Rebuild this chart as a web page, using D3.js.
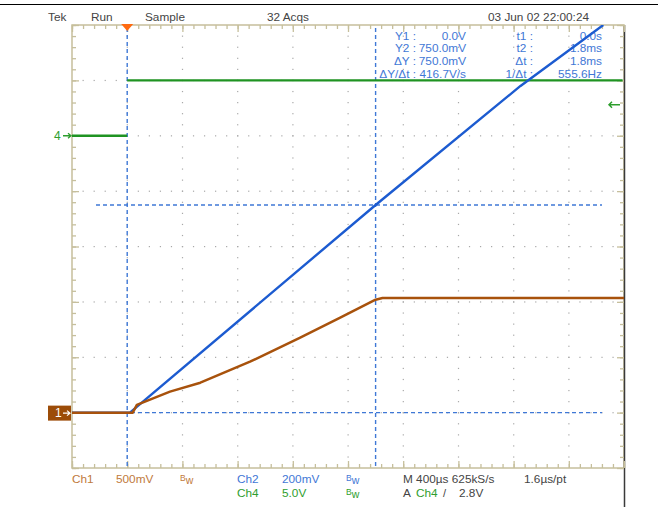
<!DOCTYPE html>
<html><head><meta charset="utf-8">
<script src="https://cdn.jsdelivr.net/npm/d3@7"></script>
<style>
html,body{margin:0;padding:0;background:#fff;}
svg{display:block;font-family:"Liberation Sans",Arial,sans-serif;}
</style></head>
<body>
<svg id="c" width="663" height="507"></svg>
<script>
// ---- data (time in ms, values in volts) ----
const timeDomain = [-0.4, 3.6];          // 400 µs/div, 10 divisions
const divDomain = [-4, 4];               // 8 vertical divisions
const ch1Time = [-0.4, 0.04, 0.07, 0.31, 0.53, 0.89, 1.25, 1.54, 1.80, 1.85, 3.6];
const ch1Volts = [0, 0, 0.07, 0.19, 0.27, 0.46, 0.675, 0.856, 1.02, 1.035, 1.035];
const ch2Time = [-0.4, 0.02, 1.80, 2.85, 3.45];
const ch2Volts = [0, 0, 0.75, 1.18, 1.40];
const ch4Time = [-0.4, 0, 0, 0, 3.59];
const ch4Volts = [0, 0, null, 5.0, 5.0];
const ch1Scale = 0.5, ch2Scale = 0.2, ch4Scale = 5.0;    // V/div
const ch1Ground = -3, ch2Ground = -3, ch4Ground = 2;      // divisions
const cursorTimes = [0, 1.8];
const cursorVolts = [0, 0.75];
const trigLevel = 2.8;
const headerLabels = ["Tek", "Run", "Sample", "32 Acqs", "03 Jun 02 22:00:24"];
const readoutLeft = [["Y1 :", "0.0V"], ["Y2 :", "750.0mV"], ["ΔY :", "750.0mV"], ["ΔY/Δt :", "416.7V/s"]];
const readoutRight = [["t1 :", "0.0s"], ["t2 :", "1.8ms"], ["Δt :", "1.8ms"], ["1/Δt :", "555.6Hz"]];

const C1 = "#a8520c", C1T = "#bf7a3c", C2 = "#1c5bd0", C2T = "#3f78d6", C4 = "#1f9322", C4T = "#2e9e2e";
const FRAME = "#c6bf9c", TXT = "#444";

const svg = d3.select("#c");
const L = 72, R = 624, T = 25, B = 468;
const x = d3.scaleLinear().domain(timeDomain).range([L, R]);
const y = d3.scaleLinear().domain(divDomain).range([B, T]);

// top black line & right border
svg.append("line").attr("x1", 0).attr("x2", 658).attr("y1", 4.5).attr("y2", 4.5).attr("stroke", "#000").attr("stroke-width", 1.2);

// grid dots
const gDots = svg.append("g").attr("fill", "#a8a8a8");
const majorT = d3.range(1, 10).map(k => timeDomain[0] + 0.4 * k);
const majorD = d3.range(-3, 4);
const minorT = d3.range(0, 51).map(k => timeDomain[0] + 0.08 * k);
const minorD = d3.range(0, 41).map(k => -4 + 0.2 * k);
majorT.forEach(t => minorD.forEach(d => { if (d > -3.99 && d < 3.99) gDots.append("rect").attr("x", x(t) - 0.5).attr("y", y(d) - 0.5).attr("width", 1.2).attr("height", 1.2); }));
majorD.forEach(d => minorT.forEach(t => { if (t > -0.39 && t < 3.59) gDots.append("rect").attr("x", x(t) - 0.5).attr("y", y(d) - 0.5).attr("width", 1.2).attr("height", 1.2); }));

// frame
svg.append("rect").attr("x", L).attr("y", T).attr("width", R - L).attr("height", B - T).attr("fill", "none").attr("stroke", FRAME).attr("stroke-width", 1.5);
svg.append("line").attr("x1", R + 0.5).attr("x2", R + 0.5).attr("y1", T).attr("y2", 507).attr("stroke", "#3a3a3a").attr("stroke-width", 1.5);

// edge ticks using d3 axes
const majorTicksT = d3.range(0, 11).map(k => timeDomain[0] + 0.4 * k);
const majorTicksD = d3.range(-4, 5);
function addAxis(axisFn, scale, vals, size, tr) {
  const g = svg.append("g").attr("transform", tr)
    .call(axisFn(scale).tickValues(vals).tickSize(size).tickFormat(""));
  g.select(".domain").remove();
  g.selectAll("line").attr("stroke", FRAME).attr("stroke-width", 1.3);
}
addAxis(d3.axisBottom, x, minorT, 4, `translate(0,${T})`);
addAxis(d3.axisBottom, x, majorTicksT, 7, `translate(0,${T})`);
addAxis(d3.axisTop, x, minorT, 4, `translate(0,${B})`);
addAxis(d3.axisTop, x, majorTicksT, 7, `translate(0,${B})`);
addAxis(d3.axisRight, y, minorD, 4, `translate(${L},0)`);
addAxis(d3.axisRight, y, majorTicksD, 7, `translate(${L},0)`);
addAxis(d3.axisLeft, y, minorD, 4, `translate(${R},0)`);
addAxis(d3.axisLeft, y, majorTicksD, 7, `translate(${R},0)`);

// header text
const hx = [48, 91, 145, 267, 488];
headerLabels.forEach((s, i) => svg.append("text").attr("x", hx[i]).attr("y", 21).attr("font-size", 11.8).attr("fill", TXT).text(s));

// readout
readoutLeft.forEach((r, i) => {
  const by = 39.5 + i * 12.9;
  svg.append("text").attr("x", 416).attr("y", by).attr("text-anchor", "end").attr("font-size", 11.8).attr("fill", C2T).text(r[0]);
  svg.append("text").attr("x", 466).attr("y", by).attr("text-anchor", "end").attr("font-size", 11.8).attr("fill", C2T).text(r[1]);
});
readoutRight.forEach((r, i) => {
  const by = 39.5 + i * 12.9;
  svg.append("text").attr("x", 533).attr("y", by).attr("text-anchor", "end").attr("font-size", 11.8).attr("fill", C2T).text(r[0]);
  svg.append("text").attr("x", 602).attr("y", by).attr("text-anchor", "end").attr("font-size", 11.8).attr("fill", C2T).text(r[1]);
});

// cursors
const yc2 = v => y(v / ch2Scale + ch2Ground);
const cur = svg.append("g").attr("stroke", C2T).attr("stroke-width", 1.4).attr("stroke-dasharray", "4,3").attr("fill", "none");
cursorTimes.forEach(t => cur.append("line").attr("x1", x(t)).attr("x2", x(t)).attr("y1", T + 3).attr("y2", B));
cursorVolts.forEach(v => cur.append("line").attr("x1", 96).attr("x2", 602).attr("y1", yc2(v)).attr("y2", yc2(v)));

// traces
svg.append("clipPath").attr("id", "clip").append("rect").attr("x", L).attr("y", T).attr("width", R - L).attr("height", B - T);
const traces = svg.append("g").attr("clip-path", "url(#clip)");
function trace(ts, vs, sc, gnd, color, w) {
  const pts = ts.map((t, i) => ({ t, v: vs[i] }));
  const line = d3.line().defined(d => d.v != null).x(d => x(d.t)).y(d => y(d.v / sc + gnd));
  traces.append("path").attr("d", line(pts)).attr("fill", "none").attr("stroke", color).attr("stroke-width", w).attr("stroke-linejoin", "round");
}
trace(ch4Time, ch4Volts, ch4Scale, ch4Ground, C4, 2.3);
trace(ch2Time, ch2Volts, ch2Scale, ch2Ground, C2, 2.4);
trace(ch1Time, ch1Volts, ch1Scale, ch1Ground, C1, 2.5);

// trigger position marker
const tx = x(0);
svg.append("path").attr("d", `M${tx - 6},${T - 1}L${tx + 6},${T - 1}L${tx},${T + 6}Z`).attr("fill", "#ff6a10");

// channel markers
const y1g = y(ch1Ground);
svg.append("rect").attr("x", 48).attr("y", y1g - 7).attr("width", 23).attr("height", 15).attr("fill", "#9c4c08");
svg.append("text").attr("x", 55).attr("y", y1g + 4.5).attr("font-size", 12).attr("fill", "#fff").text("1");
svg.append("path").attr("d", `M63,${y1g + 0.5}L70,${y1g + 0.5}M67,${y1g - 2}L70,${y1g + 0.5}L67,${y1g + 3}`).attr("stroke", "#fff").attr("stroke-width", 1.2).attr("fill", "none");

const y4g = y(ch4Ground);
svg.append("text").attr("x", 54).attr("y", y4g + 4.5).attr("font-size", 12).attr("fill", C4T).text("4");
svg.append("path").attr("d", `M63,${y4g}L71,${y4g}M68,${y4g - 2.5}L71,${y4g}L68,${y4g + 2.5}`).attr("stroke", C4T).attr("stroke-width", 1.3).attr("fill", "none");

const ytr = y(trigLevel / ch4Scale + ch4Ground);
svg.append("path").attr("d", `M609,${ytr}L620,${ytr}M612,${ytr - 3}L609,${ytr}L612,${ytr + 3}`).attr("stroke", C4T).attr("stroke-width", 1.5).attr("fill", "none");

// bottom labels
function bw(xp, yp, color) {
  const t = svg.append("text").attr("x", xp).attr("y", yp).attr("fill", color);
  t.append("tspan").attr("font-size", 8.5).attr("dy", -2).text("B");
  t.append("tspan").attr("font-size", 10.5).attr("dy", 3).text("w");
}
const r1 = 483, r2 = 497;
const FS = 11.8;
svg.append("text").attr("x", 72).attr("y", r1).attr("font-size", FS).attr("fill", C1T).text("Ch1");
svg.append("text").attr("x", 116).attr("y", r1).attr("font-size", FS).attr("fill", C1T).text("500mV");
bw(180, r1, C1T);
svg.append("text").attr("x", 237).attr("y", r1).attr("font-size", FS).attr("fill", C2T).text("Ch2");
svg.append("text").attr("x", 282).attr("y", r1).attr("font-size", FS).attr("fill", C2T).text("200mV");
bw(346, r1, C2T);
svg.append("text").attr("x", 237).attr("y", r2).attr("font-size", FS).attr("fill", C4T).text("Ch4");
svg.append("text").attr("x", 282).attr("y", r2).attr("font-size", FS).attr("fill", C4T).text("5.0V");
bw(346, r2, C4T);
svg.append("text").attr("x", 403).attr("y", r1).attr("font-size", FS).attr("fill", TXT).text("M 400µs 625kS/s");
svg.append("text").attr("x", 524).attr("y", r1).attr("font-size", FS).attr("fill", TXT).text("1.6µs/pt");
svg.append("text").attr("x", 403).attr("y", r2).attr("font-size", FS).attr("fill", TXT).text("A");
svg.append("text").attr("x", 416).attr("y", r2).attr("font-size", FS).attr("fill", C4T).text("Ch4");
svg.append("text").attr("x", 443).attr("y", r2).attr("font-size", 11).attr("fill", TXT).text("/");
svg.append("text").attr("x", 459).attr("y", r2).attr("font-size", FS).attr("fill", TXT).text("2.8V");
</script>
</body></html>
